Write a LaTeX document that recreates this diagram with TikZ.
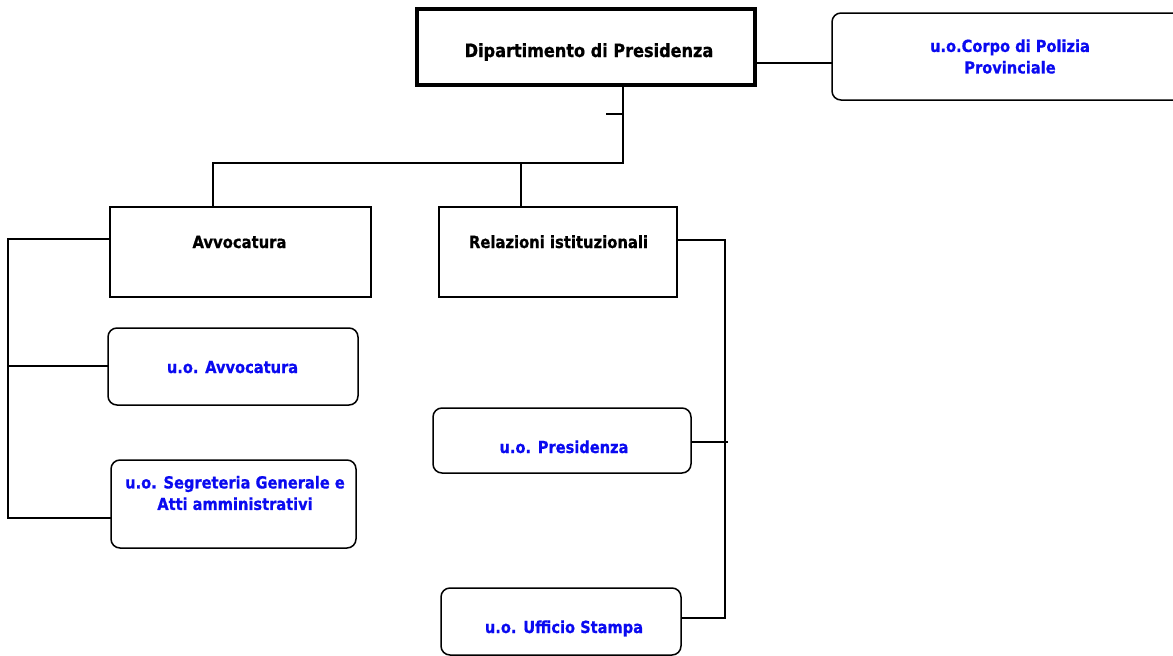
\documentclass[tikz,border=0pt]{standalone}
\usepackage{fontspec}
\setmainfont{DejaVu Sans}[FakeStretch=0.88,BoldFeatures={FakeBold=0.8}]
\definecolor{uoblue}{RGB}{10,10,240}
\begin{document}
\begin{tikzpicture}[x=1pt,y=-1pt,
  plainbox/.style={draw=black,line width=1.5pt,rectangle,inner sep=0pt},
  roundbox/.style={draw=black,line width=1.5pt,rectangle,rounded corners=9pt,inner sep=0pt},
  conn/.style={line width=2pt,line cap=rect},
  blk/.style={font=\fontsize{16.8}{21.5}\selectfont\bfseries,text=black,inner sep=0pt,align=center},
  blu/.style={font=\fontsize{16.6}{21.5}\selectfont\bfseries,text=uoblue,inner sep=0pt,align=center}]
\useasboundingbox (0,0) rectangle (1173,656);
\clip (0,0) rectangle (1173,656);
% boxes
\node[plainbox,line width=4pt,minimum width=338pt,minimum height=76pt] (main) at (586,47) {};
\node[roundbox,minimum width=353pt,minimum height=87pt] (pol) at (1008.5,56.5) {};
\node[plainbox,minimum width=261pt,minimum height=90pt] (av) at (240.5,252) {};
\node[plainbox,minimum width=238pt,minimum height=90pt] (rel) at (558,252) {};
\node[roundbox,minimum width=250pt,minimum height=77pt] (uoav) at (233,366.5) {};
\node[roundbox,minimum width=245pt,minimum height=88pt] (seg) at (233.5,504) {};
\node[roundbox,minimum width=258pt,minimum height=65pt] (pres) at (562,440.5) {};
\node[roundbox,minimum width=240pt,minimum height=67pt] (stampa) at (561,621.5) {};
% texts
\node[blk,anchor=base,font=\fontsize{18.3}{20}\selectfont\bfseries] (mainT) at (589,57) {Dipartimento di Presidenza};
\node[blu] (polT) at (1010,56.5) {u.o.Corpo di Polizia\\Provinciale};
\node[blk,anchor=base] (avT) at (239.5,248) {Avvocatura};
\node[blk,anchor=base] (relT) at (558.5,248) {Relazioni istituzionali};
\node[blu,anchor=base] (uoavT) at (232.5,373) {u.o. Avvocatura};
\node[blu] (segT) at (235,493) {u.o. Segreteria Generale e\\Atti amministrativi};
\node[blu,anchor=base] (presT) at (564,453) {u.o. Presidenza};
\node[blu,anchor=base] (stampaT) at (564,633) {u.o. Ufficio Stampa};
% junction coordinates
\coordinate (t1) at (623,163);
\coordinate (t2) at (213,163);
\coordinate (t3) at (521,163);
\coordinate (tk) at (607,114);
\coordinate (lb1) at (8,239);
\coordinate (lb2) at (8,518);
\coordinate (lb3) at (8,366);
\coordinate (rb1) at (725,240);
\coordinate (rb2) at (725,618);
\coordinate (rb3) at (725,442);
\coordinate (rb3e) at (727,442);
% connectors
\draw[conn] (main.east |- 0,63) -- (pol.west |- 0,63);
\draw[conn] (main.south -| t1) -- (t1) -- (t2) -- (av.north -| t2);
\draw[conn] (t3) -- (rel.north -| t3);
\draw[conn] (tk) -- (tk -| t1);
\draw[conn] (av.west |- lb1) -- (lb1) -- (lb2) -- (seg.west |- lb2);
\draw[conn] (lb3) -- (uoav.west |- lb3);
\draw[conn] (rel.east |- rb1) -- (rb1) -- (rb2) -- (stampa.east |- rb2);
\draw[conn] (pres.east |- rb3) -- (rb3e);
\end{tikzpicture}
\end{document}
